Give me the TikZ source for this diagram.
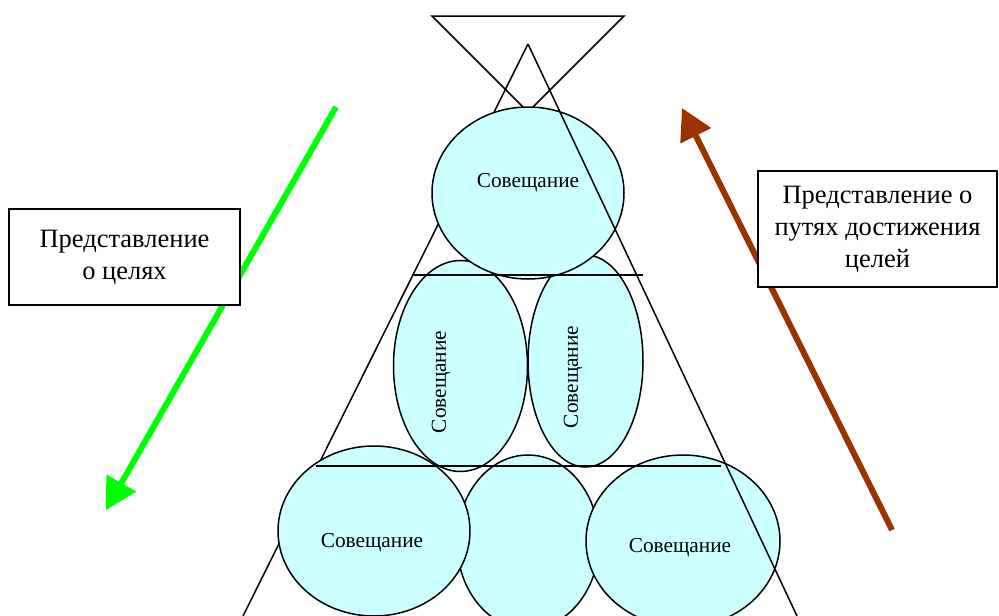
\documentclass[tikz,border=0pt]{standalone}
\usepackage{fontspec}
\setmainfont{Liberation Serif}
\usetikzlibrary{shapes.geometric,arrows.meta}
\definecolor{meetcyan}{HTML}{CCFFFF}
\definecolor{goalgreen}{HTML}{00FF00}
\definecolor{pathbrown}{HTML}{993300}
\newcommand{\meetsize}{\fontsize{21.3}{25}\selectfont}
\newcommand{\viewsize}{\fontsize{26.5}{32}\selectfont}

\begin{document}
\begin{tikzpicture}[x=1pt,y=-1pt,
    meet/.style={ellipse, draw, fill=meetcyan, line width=1.5pt, inner sep=0pt},
    meettext/.style={font=\meetsize, inner sep=0pt},
    viewbox/.style={draw, fill=white, line width=1.5pt, align=center, font=\viewsize, inner sep=0pt},
    bigarrow/.style={line width=6pt, -{Triangle[length=31pt,width=33pt]}},
    rim/.style={line width=1.5pt}]
            \useasboundingbox (0,0) rectangle (999,616);
            \path (528,44) coordinate (A); % apex of the pyramid

            % upper funnel and left side of the pyramid
            \draw [rim] (432,16) -- (624,16) -- (528,112) -- cycle;
            \draw [rim] (A) -- (243,616);

            % arrows
            \path (336,107) coordinate (G0);
            \path (106,510) coordinate (G1);
            \path (892,530) coordinate (P0);
            \path (682,108) coordinate (P1);
            \draw [bigarrow, goalgreen] (G0) -- (G1);
            \draw [bigarrow, pathbrown] (P0) -- (P1);

            % boxes
            \path (124.5,257) node (V1) [viewbox, minimum width=231pt, minimum height=96pt]{Представление\\о целях};
            \path (877.5,229) node (V2) [viewbox, minimum width=239pt, minimum height=116pt]{Представление о\\путях достижения\\целей};

            % meetings, bottom row first
            \path (528,542) node (M5) [meet, minimum width=142pt, minimum height=174pt]{};
            \path (374,531) node (M4) [meet, minimum width=192pt, minimum height=170pt]{};
            \path (683,541) node (M6) [meet, minimum width=194pt, minimum height=172pt]{};
            \path (460.5,366) node (M2) [meet, minimum width=134pt, minimum height=211pt]{};
            \path (585.5,361) node (M3) [meet, minimum width=115pt, minimum height=212pt]{};
            \path (528,193) node (M1) [meet, minimum width=192pt, minimum height=172pt]{};

            \path (528,183) node (T1) [meettext]{Совещание};
            \path (441,382) node (T2) [meettext, rotate=90]{Совещание};
            \path (573,377) node (T3) [meettext, rotate=90]{Совещание};
            \path (372,543) node (T4) [meettext]{Совещание};
            \path (680,548) node (T6) [meettext]{Совещание};

            % right side of the pyramid and the floors
            \draw [rim] (A) -- (797,616);
            \draw [rim] (412,275) -- (643,275);
            \draw [rim] (316,466) -- (721,466);
        \end{tikzpicture}
\end{document}
